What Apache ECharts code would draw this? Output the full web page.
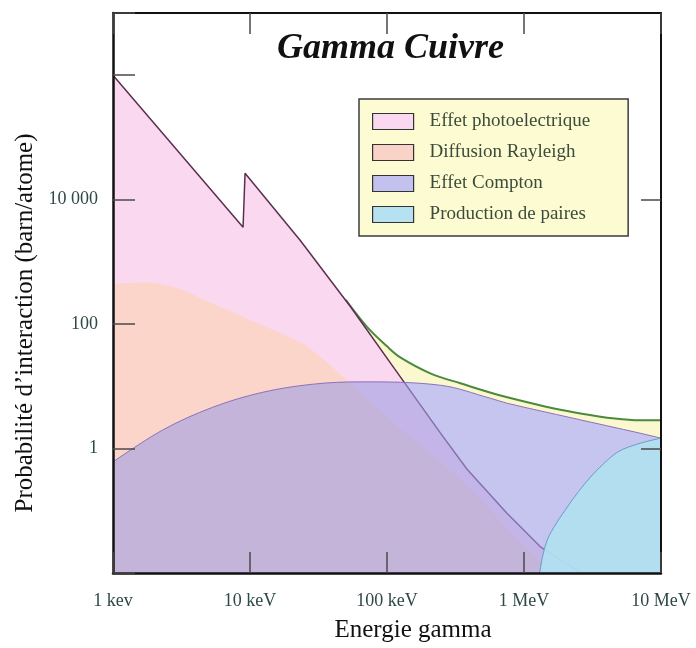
<!DOCTYPE html>
<html>
<head>
<meta charset="utf-8">
<style>
  html, body { margin: 0; padding: 0; background: #ffffff; }
  #chart { width: 696px; height: 648px; }
</style>
<script src="https://cdn.jsdelivr.net/npm/echarts@6/dist/echarts.min.js"></script>
</head>
<body>
<div id="chart"></div>
<script>
// ---- Data (energies in keV, cross sections in barn/atom) ----
const energyTickLabels = ['1 kev', '10 keV', '100 keV', '1 MeV', '10 MeV'];
const probTickLabels = { '0': '1', '2': '100', '4': '10 000' };
const topTickExps = [0, 1, 2, 3, 4];
const rightTickExps = [0, 4];

const seriesNames = ['Effet photoelectrique', 'Diffusion Rayleigh', 'Effet Compton', 'Production de paires'];

const photoE = [1, 8.9, 9.2, 23.3, 54, 113, 245, 384, 751, 1318, 2300, 3055, 5050];
const photoV = [1e6, 3600, 26500, 2205, 192, 19.4, 1.79, 0.465, 0.0915, 0.0264, 0.012, 0.0087, 0.0053];

const rayleighE = [1, 1.58, 2.29, 5.3, 12.3, 19.7, 28.5, 51, 125, 380, 1000, 3055];
const rayleighV = [442, 467, 434, 215, 95.3, 61.2, 37.8, 12.5, 2.12, 0.258, 0.028, 0.0031];

const comptonE = [1, 2.29, 5.33, 12.3, 28.5, 64, 246, 567, 754, 2290, 7080, 10000];
const comptonV = [0.61, 1.97, 4.6, 8.0, 10.8, 11.8, 10.4, 6.45, 5.35, 3.07, 1.76, 1.47];

const pairE = [1255, 1291, 1479, 2070, 3050, 4790, 7080, 10000];
const pairV = [0.003, 0.0089, 0.034, 0.115, 0.346, 0.87, 1.22, 1.47];

const totalE = [50, 72, 100, 125, 207, 343, 755, 2300, 7080, 10000];
const totalV = [245, 88.5, 43.9, 29.2, 16.2, 11.2, 6.66, 3.83, 2.85, 2.85];

// ---- Styles ----
const fills = ['#F9D8F0', '#FCD5CA', 'rgba(160,158,228,0.6)', 'rgba(178,224,240,0.93)'];
const legendFills = ['#F9D8F0', '#FAD3C8', '#C3C2EE', '#B5E1F0'];
const serif = 'Liberation Serif';

function pts(E, V) { return E.map((e, i) => [e, V[i]]); }

const chart = echarts.init(document.getElementById('chart'), null, { renderer: 'canvas' });

const tickLabelStyle = { fontFamily: serif, fontSize: 18, color: '#2e4846' };
const nameStyle = { fontFamily: serif, fontSize: 25, color: '#111' };

const option = {
  animation: false,
  backgroundColor: '#ffffff',
  title: {
    text: 'Gamma Cuivre',
    left: 277, top: 31, padding: 0,
    textStyle: { fontFamily: serif, fontStyle: 'italic', fontWeight: 'bold', fontSize: 36, color: '#111' }
  },
  legend: {
    data: seriesNames.map((n, i) => ({ name: n, icon: 'rect', itemStyle: { color: legendFills[i], borderColor: '#333', borderWidth: 1.2 } })),
    orient: 'vertical',
    left: 359, top: 99,
    itemWidth: 41, itemHeight: 16, itemGap: 12,
    padding: [13, 38, 12, 13],
    backgroundColor: '#FDFBD2',
    borderColor: '#3d3d3d', borderWidth: 1.5,
    selectedMode: false,
    z: 20,
    textStyle: { fontFamily: serif, fontSize: 19, color: '#3b4b3b', padding: [0, 0, 0, 11] }
  },
  grid: { left: 113, right: 35, top: 13, bottom: 72, containLabel: false },
  xAxis: [
    {
      type: 'log', logBase: 10, min: 1, max: 10000, interval: 1,
      name: 'Energie gamma', nameLocation: 'middle', nameGap: 45,
      nameTextStyle: Object.assign({ padding: [0, 0, 0, 52] }, nameStyle),
      axisLine: { show: true, onZero: false, lineStyle: { color: '#111', width: 2.5 } },
      axisTick: { show: true, inside: true, length: 21, lineStyle: { color: '#4a4a4a', width: 1.5 } },
      axisLabel: Object.assign({
        margin: 19, showMinLabel: true, showMaxLabel: true,
        formatter: v => energyTickLabels[Math.round(Math.log10(v))] || ''
      }, tickLabelStyle),
      splitLine: { show: false },
      z: 10
    },
    {
      type: 'value', position: 'top', min: 0, max: 4,
      axisLine: { show: true, onZero: false, lineStyle: { color: '#111', width: 2 } },
      axisTick: { show: true, inside: true, length: 21, customValues: topTickExps, lineStyle: { color: '#4a4a4a', width: 1.5 } },
      axisLabel: { show: false },
      splitLine: { show: false },
      z: 10
    }
  ],
  yAxis: [
    {
      type: 'log', logBase: 10, min: 0.01, max: 1e7, interval: 2,
      name: 'Probabilité d’interaction (barn/atome)', nameLocation: 'middle', nameGap: 64, nameRotate: 90,
      nameTextStyle: Object.assign({ padding: [0, 60, 0, 0] }, nameStyle),
      axisLine: { show: true, onZero: false, lineStyle: { color: '#111', width: 2.5 } },
      axisTick: { show: true, inside: true, length: 22, lineStyle: { color: '#4a4a4a', width: 1.5 } },
      axisLabel: Object.assign({
        margin: 15, showMinLabel: true, showMaxLabel: true,
        formatter: v => probTickLabels[String(Math.round(Math.log10(v)))] || ''
      }, tickLabelStyle),
      splitLine: { show: false },
      z: 10
    },
    {
      type: 'value', position: 'right', min: -2, max: 7,
      axisLine: { show: true, onZero: false, lineStyle: { color: '#111', width: 2 } },
      axisTick: { show: true, inside: true, length: 20, customValues: rightTickExps, lineStyle: { color: '#4a4a4a', width: 1.5 } },
      axisLabel: { show: false },
      splitLine: { show: false },
      z: 10
    }
  ],
  series: [
    {
      name: 'Total', type: 'line', data: pts(totalE, totalV), symbol: 'none',
      smooth: 0.35,
      lineStyle: { color: '#4a8a3a', width: 2 },
      itemStyle: { color: '#FBF8CF' },
      areaStyle: { color: '#FBF8CF', opacity: 1, origin: 'start' },
      z: 1
    },
    {
      // white backing under the Compton region so the yellow total fill shows only above it
      name: 'ComptonBacking', type: 'line', data: pts(comptonE, comptonV), symbol: 'none',
      smooth: 0.35,
      lineStyle: { width: 0, opacity: 0 },
      itemStyle: { color: '#ffffff' },
      areaStyle: { color: '#ffffff', opacity: 1, origin: 'start' },
      z: 2
    },
    {
      name: seriesNames[0], type: 'line', data: pts(photoE, photoV), symbol: 'none',
      lineStyle: { color: '#5b2f50', width: 1.5 },
      itemStyle: { color: legendFills[0] },
      areaStyle: { color: fills[0], opacity: 1, origin: 'start' },
      z: 3
    },
    {
      name: seriesNames[1], type: 'line', data: pts(rayleighE, rayleighV), symbol: 'none',
      smooth: 0.5,
      lineStyle: { width: 0, opacity: 0 },
      itemStyle: { color: legendFills[1] },
      areaStyle: { color: fills[1], opacity: 1, origin: 'start' },
      z: 4
    },
    {
      name: seriesNames[2], type: 'line', data: pts(comptonE, comptonV), symbol: 'none',
      smooth: 0.35,
      lineStyle: { color: '#8a72b8', width: 1 },
      itemStyle: { color: legendFills[2] },
      areaStyle: { color: fills[2], opacity: 1, origin: 'start' },
      z: 5
    },
    {
      name: seriesNames[3], type: 'line', data: pts(pairE, pairV), symbol: 'none',
      smooth: 0.3,
      lineStyle: { color: '#6a9bc8', width: 1 },
      itemStyle: { color: legendFills[3] },
      areaStyle: { color: fills[3], opacity: 1, origin: 'start' },
      z: 6
    }
  ]
};
chart.setOption(option);
</script>
</body>
</html>
